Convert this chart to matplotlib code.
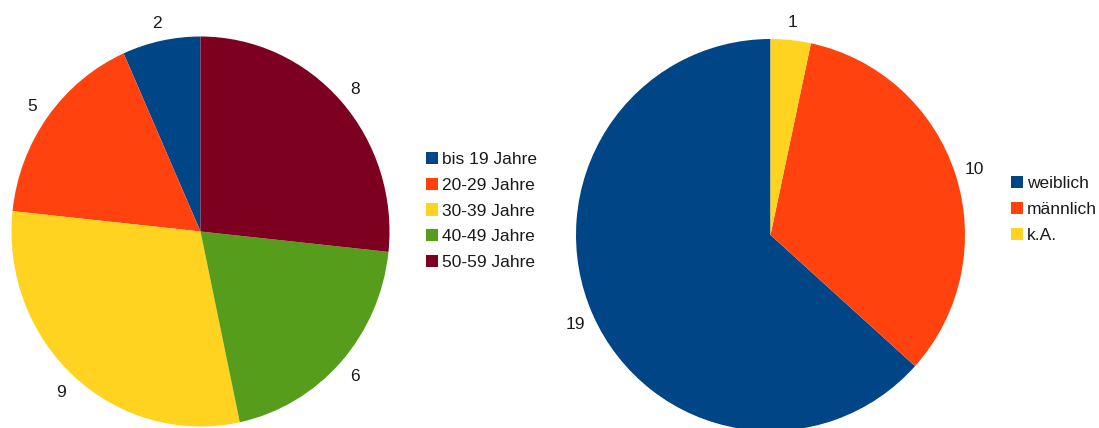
import matplotlib.pyplot as plt

# age groups
age_labels = ["bis 19 Jahre", "20-29 Jahre", "30-39 Jahre", "40-49 Jahre", "50-59 Jahre"]
age_counts = [2, 5, 9, 6, 8]

# gender
gender_labels = ["weiblich", "männlich", "k.A."]
gender_counts = [19, 10, 1]

age_colors = ["#004586", "#ff420e", "#ffd320", "#579d1c", "#7e0021"]
gender_colors = ["#004586", "#ff420e", "#ffd320"]

plt.rcParams['font.family'] = ['Liberation Sans', 'DejaVu Sans']
FS = 12.5
W, H = 1099, 428

fig = plt.figure(figsize=(W / 100, H / 100), dpi=100)


def pie_axes(cx, cy, rx, ry):
    """axes holding a unit-radius pie centred at pixel (cx, cy), y from top"""
    yb = H - cy
    ax = fig.add_axes([(cx - rx) / W, (yb - ry) / H, 2 * rx / W, 2 * ry / H])
    return ax


def draw_pie(ax, counts, colors):
    wedges, texts = ax.pie(counts, colors=colors, startangle=90, counterclock=True,
                           labels=[str(c) for c in counts], labeldistance=1.1,
                           radius=1.0, wedgeprops=dict(linewidth=0),
                           textprops=dict(fontsize=FS, color="#1a1a1a"))
    for t in texts:
        t.set_ha('center')
        t.set_va('center_baseline')
    ax.set_xlim(-1, 1)
    ax.set_ylim(-1, 1)
    ax.set_aspect('auto')
    ax.axis('off')
    return wedges


ax1 = pie_axes(200.5, 231.5, 189, 195)
w1 = draw_pie(ax1, age_counts, age_colors)

ax2 = pie_axes(770.5, 235, 194.5, 196)
w2 = draw_pie(ax2, gender_counts, gender_colors)

leg_kw = dict(loc='center left', frameon=False, fontsize=FS, borderpad=0, borderaxespad=0,
              handlelength=0.7, handleheight=0.7, handletextpad=0.2, labelspacing=0.62,
              labelcolor="#1a1a1a")
fig.legend(w1, age_labels, bbox_to_anchor=(426 / W, (H - 211) / H), **leg_kw)
fig.legend(w2, gender_labels, bbox_to_anchor=(1011 / W, (H - 209.5) / H), **leg_kw)

fig.savefig("out.png", dpi=100)
